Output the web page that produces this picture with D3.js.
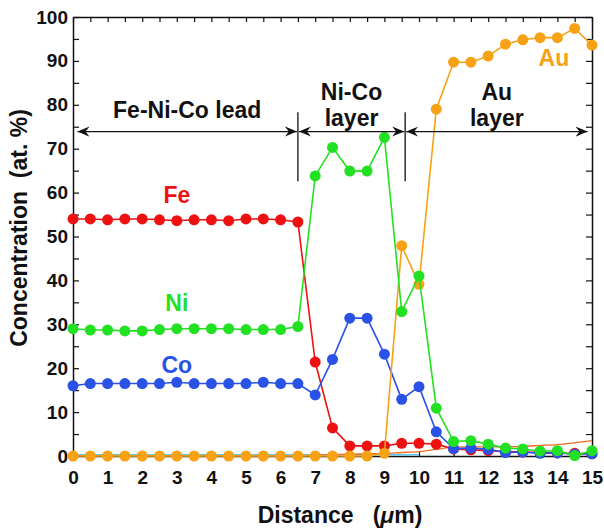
<!DOCTYPE html>
<html>
<head>
<meta charset="utf-8">
<script src="https://cdn.jsdelivr.net/npm/d3@7"></script>
<style>
  body { margin: 0; background: #fff; }
  svg { font-family: "Liberation Sans", Arial, Helvetica, sans-serif; font-weight: bold; }
</style>
</head>
<body>
<div id="chart"></div>
<script>
// distance steps (um)
const distance = d3.range(0, 15.01, 0.5);

const fe = [54, 54, 53.8, 54, 54, 53.8, 53.6, 53.8, 53.8, 53.6, 54, 54, 53.8, 53.3,
  21.4, 6.4, 2.3, 2.3, 2.3, 2.9, 2.9, 2.7, 1.6, 1.4, 1.2, 1.0, 0.9, 0.8, 0.7, 0.6, 0.5];
const ni = [29, 28.7, 28.7, 28.5, 28.5, 28.8, 29, 29, 29, 29, 28.8, 28.8, 28.8, 29.5,
  63.8, 70.3, 64.9, 64.9, 72.6, 32.9, 41, 10.9, 3.3, 3.5, 2.7, 1.8, 1.6, 1.1, 1.2, 0.1, 1.2];
const co = [16, 16.5, 16.5, 16.5, 16.5, 16.5, 16.8, 16.5, 16.5, 16.5, 16.5, 16.8, 16.5, 16.5,
  13.9, 22, 31.4, 31.4, 23.2, 12.9, 15.8, 5.5, 1.7, 1.8, 1.5, 0.8, 0.9, 0.6, 0.7, 0.4, 0.5];
const au = [0, 0, 0, 0, 0, 0, 0, 0, 0, 0, 0, 0, 0, 0,
  0, 0, 0, 0, 0.6, 47.9, 39.1, 79, 89.7, 89.7, 91.1, 93.8, 94.8, 95.3, 95.3, 97.4, 93.6];
// thin lines without markers
const baseline = [0.3, 0.3, 0.3, 0.3, 0.3, 0.3, 0.3, 0.3, 0.3, 0.3, 0.3, 0.3, 0.3, 0.3,
  0.3, 0.3, 0.3, 0.3, 0.3, 0.3, 0.3];
const fit = [0.1, 0.1, 0.1, 0.1, 0.1, 0.1, 0.1, 0.1, 0.1, 0.1, 0.1, 0.1, 0.1, 0.1,
  0.2, 0.3, 0.4, 0.5, 0.6, 0.8, 1.0, 1.5, 2.0, 2.1, 2.1, 2.1, 2.2, 2.4, 2.6, 3.0, 3.5];

const xTicks = d3.range(0, 16, 1);
const yTicks = d3.range(0, 101, 10);

const layers = [
  { name: ["Fe-Ni-Co lead"], from: 0.1, to: 6.5 },
  { name: ["Ni-Co", "layer"], from: 6.5, to: 9.6 },
  { name: ["Au", "layer"], from: 9.6, to: 14.9 }
];
const dividers = [6.5, 9.6];

const series = [
  { name: "Fe", values: fe, color: "#ee1111", lx: 3, ly: 59.5 },
  { name: "Co", values: co, color: "#2a52e6", lx: 3, ly: 20.7 },
  { name: "Au", values: au, color: "#f6a214", lx: 13.9, ly: 90.7 },
  { name: "Ni", values: ni, color: "#22e022", lx: 3, ly: 34.9 }
];

const W = 604, H = 531;
const margin = { top: 17, right: 12, bottom: 75, left: 73 };
const width = W - margin.left - margin.right;
const height = H - margin.top - margin.bottom;

const svg = d3.select('#chart').append('svg')
  .attr('width', W)
  .attr('height', H);

const x = d3.scaleLinear().domain([0, 15]).range([margin.left, margin.left + width]);
const y = d3.scaleLinear().domain([0, 100]).range([margin.top + height, margin.top]);

// arrow heads
const defs = svg.append('defs');
defs.append('marker')
  .attr('id', 'head')
  .attr('viewBox', '-12 -6 14 12')
  .attr('refX', 0).attr('refY', 0)
  .attr('markerWidth', 14).attr('markerHeight', 12)
  .attr('markerUnits', 'userSpaceOnUse')
  .attr('orient', 'auto-start-reverse')
  .append('path')
  .attr('d', 'M0,0 L-12,-5 L-8,0 L-12,5 Z')
  .attr('fill', '#111');

// frame ticks
const g = svg.append('g');
g.append('g')
  .attr('transform', `translate(0,${margin.top})`)
  .call(d3.axisBottom(x).tickValues(d3.range(0, 15.01, 0.5)).tickSize(5).tickSizeOuter(0).tickFormat(''));
g.append('g')
  .attr('transform', `translate(0,${margin.top + height})`)
  .call(d3.axisTop(x).tickValues(xTicks).tickSize(4).tickSizeOuter(0).tickFormat(''));
g.append('g')
  .attr('transform', `translate(${margin.left},0)`)
  .call(d3.axisRight(y).tickValues(d3.range(0, 101, 5)).tickSize(6).tickSizeOuter(0).tickFormat(''));
g.append('g')
  .attr('transform', `translate(${margin.left + width},0)`)
  .call(d3.axisLeft(y).tickValues(d3.range(0, 101, 5)).tickSize(6).tickSizeOuter(0).tickFormat(''));
g.selectAll('.domain').attr('stroke', '#111').attr('stroke-width', 1.5);
g.selectAll('.tick line').attr('stroke', '#111').attr('stroke-width', 1.2);

// tick labels
const xLab = svg.append('g')
  .attr('transform', `translate(0,${margin.top + height})`)
  .call(d3.axisBottom(x).tickValues(xTicks).tickSize(0).tickPadding(15).tickFormat(d3.format('d')));
const yLab = svg.append('g')
  .attr('transform', `translate(${margin.left},0)`)
  .call(d3.axisLeft(y).tickValues(yTicks).tickSize(0).tickPadding(5).tickFormat(d3.format('d')));
[xLab, yLab].forEach(a => {
  a.select('.domain').remove();
  a.selectAll('text').attr('font-size', 19).attr('font-weight', 'bold').attr('fill', '#111')
    .attr('font-family', '"Liberation Sans", Arial, sans-serif');
});

// thin lines
const line = d3.line().x((d, i) => x(distance[i])).y(d => y(d));
svg.append('path').datum(baseline)
  .attr('fill', 'none').attr('stroke', '#5cc8f0').attr('stroke-width', 1.5)
  .attr('d', line);
svg.append('path').datum(fit)
  .attr('fill', 'none').attr('stroke', '#f26a22').attr('stroke-width', 1.3)
  .attr('d', line.curve(d3.curveMonotoneX));
line.curve(d3.curveLinear);

// data series
series.forEach(s => {
  const gs = svg.append('g');
  gs.append('path').datum(s.values)
    .attr('fill', 'none').attr('stroke', s.color).attr('stroke-width', 1.6)
    .attr('d', line);
  gs.selectAll('circle').data(s.values).enter().append('circle')
    .attr('cx', (d, i) => x(distance[i]))
    .attr('cy', d => y(d))
    .attr('r', 5.5)
    .attr('fill', s.color);
  svg.append('text')
    .attr('x', x(s.lx)).attr('y', y(s.ly)).attr('dy', '0.36em')
    .attr('text-anchor', 'middle')
    .attr('font-size', 23)
    .attr('fill', s.color)
    .text(s.name);
});

// layer annotations
const arrowY = y(73.9);
dividers.forEach(d => {
  svg.append('line')
    .attr('x1', x(d)).attr('x2', x(d))
    .attr('y1', y(78.3)).attr('y2', y(62.6))
    .attr('stroke', '#111').attr('stroke-width', 1.3);
});
layers.forEach(l => {
  svg.append('line')
    .attr('x1', x(l.from) + 1).attr('x2', x(l.to) - 1)
    .attr('y1', arrowY).attr('y2', arrowY)
    .attr('stroke', '#111').attr('stroke-width', 1.3)
    .attr('marker-start', 'url(#head)')
    .attr('marker-end', 'url(#head)');
  const cx = (x(l.from) + x(l.to)) / 2;
  const t = svg.append('text')
    .attr('x', cx)
    .attr('text-anchor', 'middle')
    .attr('font-size', 23)
    .attr('fill', '#111');
  const top = l.name.length > 1 ? arrowY - 32 : arrowY - 14;
  l.name.forEach((n, i) => {
    t.append('tspan').attr('x', cx).attr('y', top + i * 26).text(n);
  });
});

// axis titles
const xt = svg.append('text')
  .attr('x', 340).attr('y', 523)
  .attr('text-anchor', 'middle')
  .attr('font-size', 23)
  .attr('fill', '#111')
  .style('white-space', 'pre');
xt.append('tspan').text('Distance   (');
xt.append('tspan').attr('font-style', 'italic').text('μ');
xt.append('tspan').text('m)');

svg.append('text')
  .attr('transform', `translate(27,228) rotate(-90)`)
  .attr('text-anchor', 'middle')
  .attr('font-size', 23)
  .attr('fill', '#111')
  .style('white-space', 'pre')
  .text('Concentration  (at. %)');
</script>
</body>
</html>
